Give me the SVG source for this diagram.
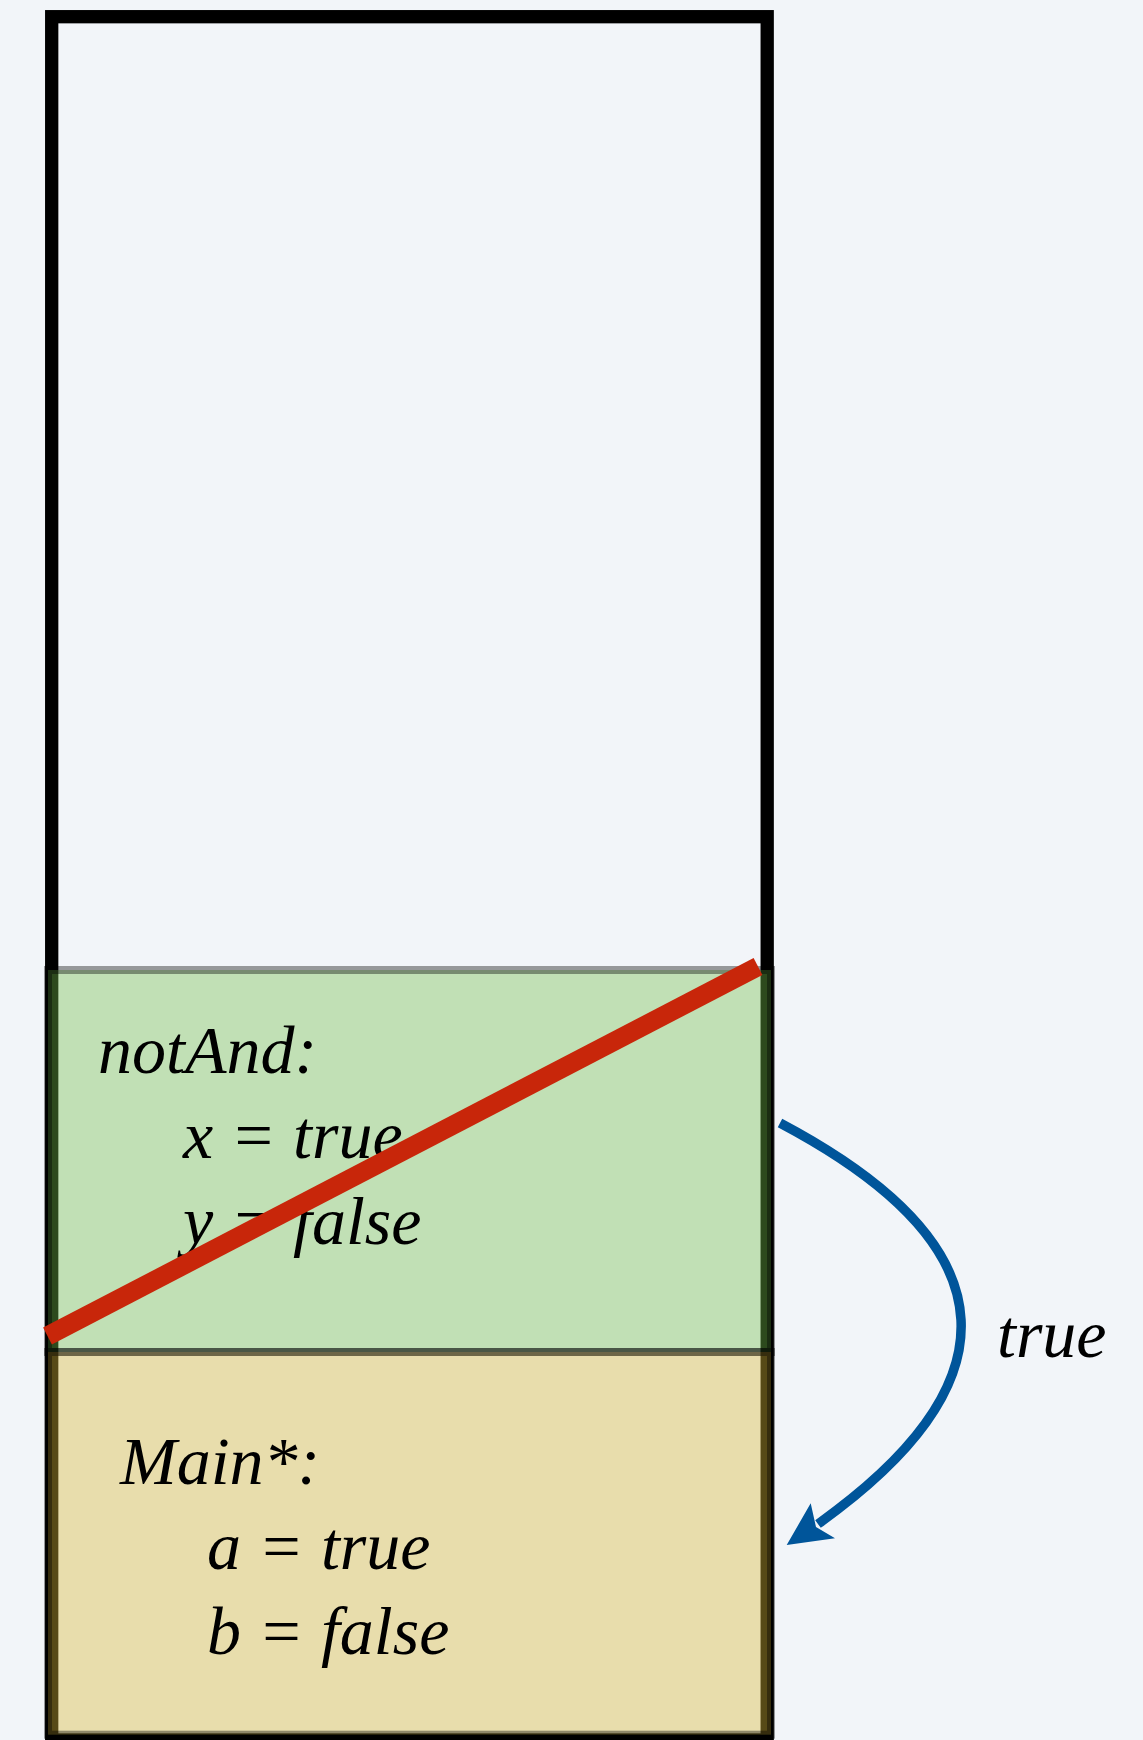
<svg xmlns="http://www.w3.org/2000/svg" width="1143" height="1740" viewBox="0 0 1143 1740">
<style>
.t{font-family:"Liberation Serif","Times New Roman",serif;font-style:italic;font-size:68px;fill:#000}
.frame{fill:rgba(0,0,0,0);stroke:rgba(0,0,0,0.38);stroke-width:8}
</style>
<rect x="0" y="0" width="1143" height="1740" fill="#f2f5f9"/>
<g id="stack">
<rect x="51.7" y="16.7" width="715.5" height="1723.3" fill="#f2f5f9" stroke="#000" stroke-width="13.3"/>
</g>
<g id="notAnd">
<rect x="48" y="970" width="723" height="382" fill="rgba(115,190,74,0.39)" stroke="rgba(0,0,0,0.38)" stroke-width="8"/>
<text class="t" x="98" y="1073">notAnd:</text>
<text class="t" x="183" y="1158">x = true</text>
<text class="t" x="183" y="1244">y = false</text>
</g>
<g id="main">
<rect x="48" y="1352" width="723" height="382.7" fill="rgba(217,185,57,0.4)" stroke="rgba(0,0,0,0.38)" stroke-width="8"/>
<text class="t" x="120" y="1484">Main*:</text>
<text class="t" x="207" y="1569">a = true</text>
<text class="t" x="207" y="1654">b = false</text>
</g>
<g id="connectors">
<line x1="47.5" y1="1336" x2="758" y2="966.5" stroke="#c8260a" stroke-width="19"/>
<path d="M780,1123 C1020,1250 1010,1387 818,1524" fill="none" stroke="#00559a" stroke-width="9.5"/>
<polygon points="786.7,1545 810.7,1503.3 816,1527 835,1538.3" fill="#00559a"/>
<text class="t" x="997" y="1357">true</text>
</g>
</svg>
